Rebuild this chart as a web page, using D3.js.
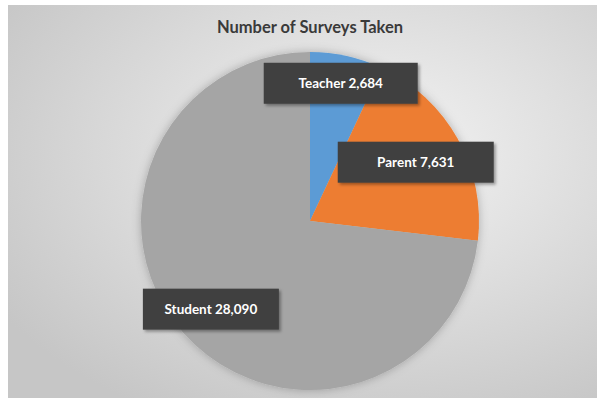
<!DOCTYPE html>
<html>
<head>
<meta charset="utf-8">
<script src="https://cdn.jsdelivr.net/npm/d3@7"></script>
<style>
  body { margin: 0; background: #ffffff; }
  svg { display: block; }
</style>
</head>
<body>
<div id="chart"></div>
<script>
// datos del grafico
const categorias = ["Teacher", "Parent", "Student"];
const valores = [2684, 7631, 28090];
const colores = ["#5b9bd5", "#ed7d31", "#a5a5a5"];
const titulo = "Number of Surveys Taken";

const WIDTH = 601;
const HEIGHT = 400;

// area del grafico (fondo gris)
const AREA = { x: 8, y: 5, w: 589, h: 393 };

// pie
const CX = 310, CY = 221, RADIO = 169;

// posicion de etiquetas (fraccion del radio) y ancho de las cajas
const LABEL_R = [0.835, 0.716, 0.785];
const BOX_W = [154, 156, 136];
const BOX_H = 41;

const svg = d3.select("#chart").append("svg")
    .attr("width", WIDTH)
    .attr("height", HEIGHT);

const defs = svg.append("defs");

const grad = defs.append("radialGradient")
    .attr("id", "fondo")
    .attr("cx", "62%").attr("cy", "38%").attr("r", "75%");
grad.append("stop").attr("offset", "0%").attr("stop-color", "#f4f4f4");
grad.append("stop").attr("offset", "100%").attr("stop-color", "#c6c6c6");

// sombra suave del pie
const fPie = defs.append("filter").attr("id", "sombraPie")
    .attr("x", "-20%").attr("y", "-20%").attr("width", "140%").attr("height", "140%");
fPie.append("feDropShadow")
    .attr("dx", 0).attr("dy", 0).attr("stdDeviation", 5)
    .attr("flood-color", "#000").attr("flood-opacity", 0.25);

// sombra de las cajas
const fBox = defs.append("filter").attr("id", "sombraBox")
    .attr("x", "-10%").attr("y", "-20%").attr("width", "130%").attr("height", "150%");
fBox.append("feDropShadow")
    .attr("dx", 2).attr("dy", 2).attr("stdDeviation", 1.5)
    .attr("flood-color", "#000").attr("flood-opacity", 0.35);

svg.append("rect")
    .attr("x", AREA.x).attr("y", AREA.y)
    .attr("width", AREA.w).attr("height", AREA.h)
    .attr("fill", "url(#fondo)");

// titulo
svg.append("text")
    .attr("x", CX)
    .attr("y", 33)
    .attr("text-anchor", "middle")
    .attr("font-family", "Lato, 'Open Sans', sans-serif")
    .attr("font-weight", "bold")
    .attr("font-size", 16.5)
    .attr("fill", "#3a3a3a")
    .text(titulo);

const datos = categorias.map((c, i) => ({ cat: c, val: valores[i], color: colores[i], i: i }));

const pie = d3.pie().sort(null).value(d => d.val);
const arcos = pie(datos);

const arc = d3.arc().innerRadius(0).outerRadius(RADIO);

const g = svg.append("g").attr("transform", `translate(${CX}, ${CY})`);

g.append("g")
    .attr("filter", "url(#sombraPie)")
    .selectAll("path")
    .data(arcos)
    .join("path")
    .attr("d", arc)
    .attr("fill", d => d.data.color);

// etiquetas
const fmt = d3.format(",");
const etiquetas = g.selectAll("g.etiqueta")
    .data(arcos)
    .join("g")
    .attr("class", "etiqueta")
    .attr("transform", d => {
        const r = RADIO * LABEL_R[d.data.i];
        const c = d3.arc().innerRadius(r).outerRadius(r).centroid(d);
        return `translate(${c[0]}, ${c[1]})`;
    });

etiquetas.append("rect")
    .attr("x", d => -BOX_W[d.data.i] / 2)
    .attr("y", -BOX_H / 2)
    .attr("width", d => BOX_W[d.data.i])
    .attr("height", BOX_H)
    .attr("fill", "#404040")
    .attr("filter", "url(#sombraBox)");

etiquetas.append("text")
    .attr("text-anchor", "middle")
    .attr("dy", "0.35em")
    .attr("font-family", "Lato, 'Open Sans', sans-serif")
    .attr("font-weight", "bold")
    .attr("font-size", 13.5)
    .attr("fill", "#ffffff")
    .text(d => `${d.data.cat} ${fmt(d.data.val)}`);
</script>
</body>
</html>
